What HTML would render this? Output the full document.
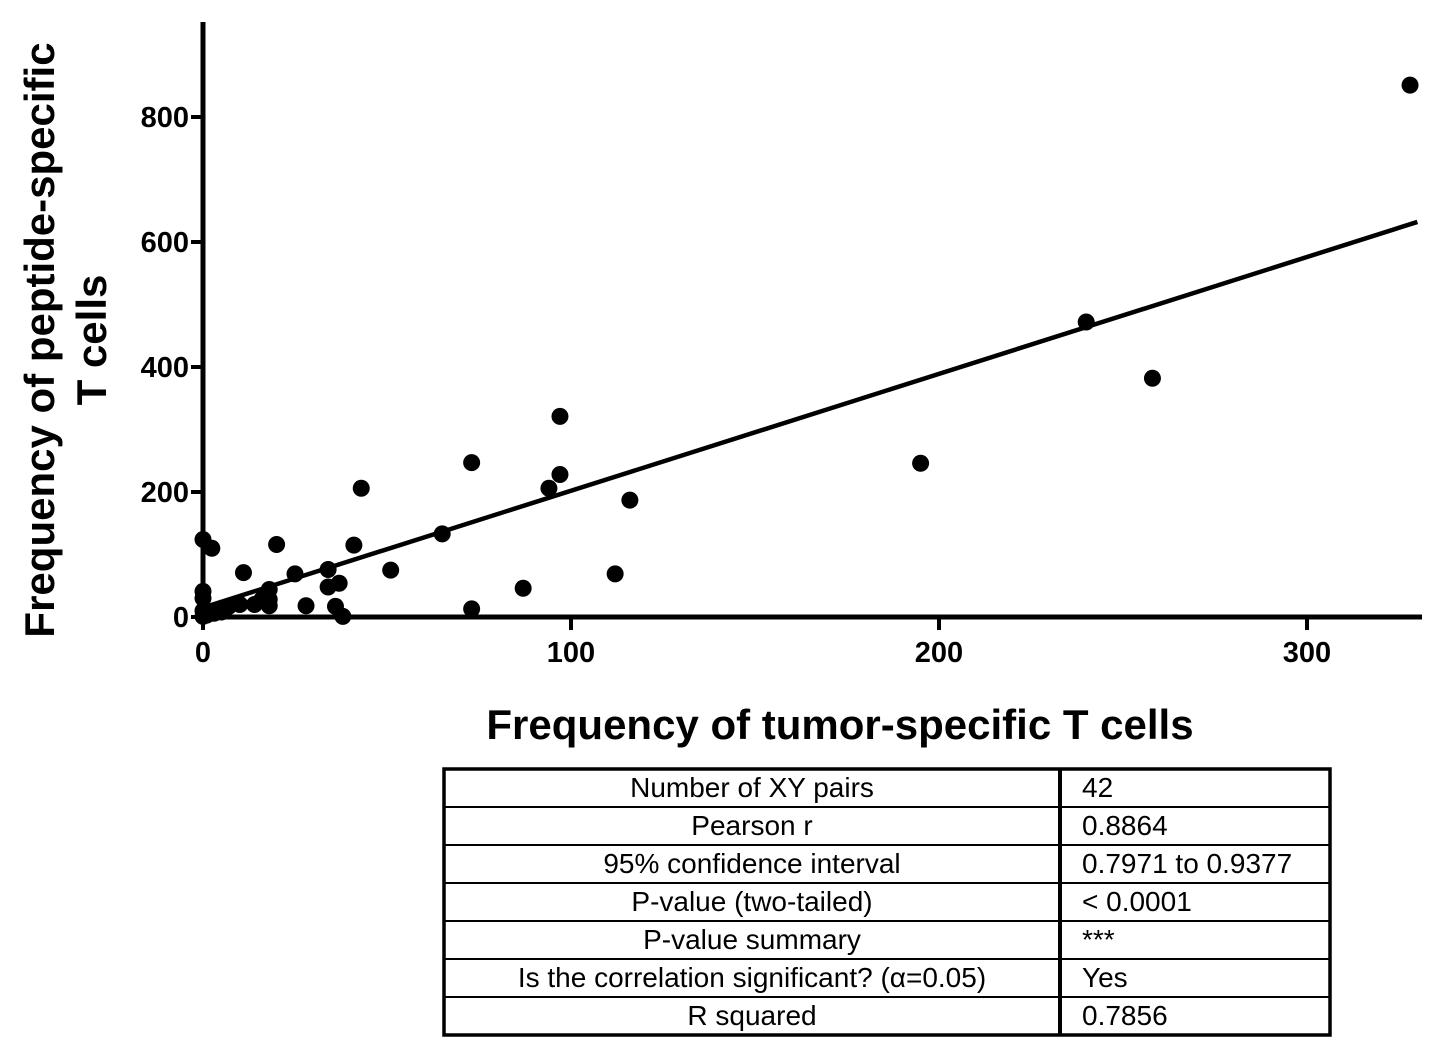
<!DOCTYPE html>
<html><head><meta charset="utf-8"><style>
body{margin:0;background:#fff;width:1453px;height:1058px;overflow:hidden;font-family:"Liberation Sans",sans-serif}
</style></head><body>
<svg width="1453" height="1058" id="chart" style="position:absolute;left:0;top:0"></svg>
<script>
const xs=[97,73,97,94,43,116,65,0,2.4,20,41,11,25,34,51,112,87,34,37,0,0,18,18,14,18,28,36,38,73,7,3,0,4.7,16,195,240,258,328,0,1,10,5];
const ys=[321,247,228,206,206,187,133,124,110,116,115,71,69,76,75,69,46,48,54,41,30,44,28,20,18,18,17,1,13,17,6,1,12,28,246,472,382,851,10,3,20,8];
const xTicks=[0,100,200,300];
const yTicks=[0,200,400,600,800];
const fitIntercept=15, fitSlope=1.87, fitMaxX=330;
const rows=[["Number of XY pairs","42"],["Pearson r","0.8864"],["95% confidence interval","0.7971 to 0.9377"],["P-value (two-tailed)","< 0.0001"],["P-value summary","***"],["Is the correlation significant? (α=0.05)","Yes"],["R squared","0.7856"]];
const NS="http://www.w3.org/2000/svg";
const svg=document.getElementById('chart');
const X=v=>203+v*3.68, Y=v=>617-v*0.625;
function mk(t,a,txt){const e=document.createElementNS(NS,t);for(const k in a)e.setAttribute(k,a[k]);if(txt!==undefined)e.textContent=txt;svg.appendChild(e);return e;}
let e;
e=mk('line',{x1:203,y1:22,x2:203,y2:622,stroke:'#000','stroke-width':5});

e=mk('line',{x1:198,y1:617,x2:1422,y2:617,stroke:'#000','stroke-width':5});

yTicks.forEach(t=>{
 e=mk('line',{x1:191,y1:Y(t),x2:203,y2:Y(t),stroke:'#000','stroke-width':4});
 
 e=mk('text',{x:189,y:Y(t)+10,'text-anchor':'end','font-size':29,'font-weight':'bold'},t);
 
});
xTicks.forEach(t=>{
 e=mk('line',{x1:X(t),y1:617,x2:X(t),y2:630,stroke:'#000','stroke-width':4});
 
 e=mk('text',{x:X(t),y:662,'text-anchor':'middle','font-size':29,'font-weight':'bold'},t);
 
});
e=mk('line',{x1:X(0),y1:Y(fitIntercept),x2:X(fitMaxX),y2:Y(fitIntercept+fitSlope*fitMaxX),stroke:'#000','stroke-width':4.5});

xs.forEach((v,i)=>{
 e=mk('circle',{cx:X(v),cy:Y(ys[i]),r:8.5,fill:'#000'});
 
});
e=mk('text',{transform:'translate(54,340) rotate(-90)','text-anchor':'middle','font-size':42,'font-weight':'bold'},'Frequency of peptide-specific');

e=mk('text',{transform:'translate(106,340) rotate(-90)','text-anchor':'middle','font-size':42,'font-weight':'bold'},'T cells');

e=mk('text',{x:840,y:739,'text-anchor':'middle','font-size':42,'font-weight':'bold'},'Frequency of tumor-specific T cells');

const tx=444,ty=769,tw=886,rh=38,div=1060;
e=mk('rect',{x:tx,y:ty,width:tw,height:rh*7,fill:'none',stroke:'#000','stroke-width':3.5});

e=mk('line',{x1:div,y1:ty,x2:div,y2:ty+rh*7,stroke:'#000','stroke-width':4});

rows.forEach((r,i)=>{
 if(i>0){e=mk('line',{x1:tx,y1:ty+rh*i,x2:tx+tw,y2:ty+rh*i,stroke:'#000','stroke-width':2});
 }
 e=mk('text',{x:752,y:ty+rh*i+28,'text-anchor':'middle','font-size':28},r[0]);
 
 e=mk('text',{x:1082,y:ty+rh*i+28,'font-size':28},r[1]);
 
});
</script>
</body></html>
